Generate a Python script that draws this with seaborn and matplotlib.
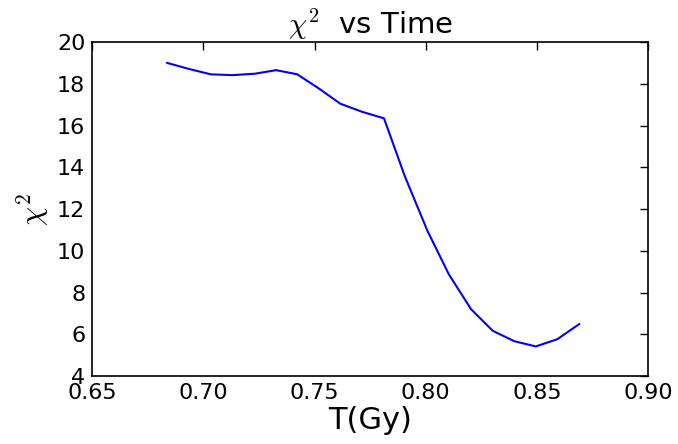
import matplotlib
matplotlib.use('Agg')
import matplotlib.pyplot as plt
import pandas as pd
import seaborn as sns

sns.set_style('white')
plt.rcParams['font.family'] = ['DejaVu Sans']
plt.rcParams['mathtext.fontset'] = 'cm'
plt.rcParams['text.color'] = 'black'
plt.rcParams['axes.labelcolor'] = 'black'
plt.rcParams['xtick.color'] = 'black'
plt.rcParams['ytick.color'] = 'black'

t_gy = [0.6836, 0.6934, 0.7033, 0.7130, 0.7232, 0.7327, 0.7422, 0.7518, 0.7616,
        0.7712, 0.7812, 0.7906, 0.8007, 0.8104, 0.8204, 0.8301, 0.8398, 0.8495,
        0.8592, 0.8691]
chi2 = [19.01, 18.72, 18.46, 18.42, 18.49, 18.66, 18.46, 17.79, 17.05,
        16.67, 16.35, 13.57, 10.97, 8.87, 7.20, 6.17, 5.67, 5.42,
        5.77, 6.50]

df = pd.DataFrame({'T': t_gy, 'chi2': chi2})

fig = plt.figure(figsize=(6.78, 4.44), dpi=100)
ax = fig.add_subplot(111)
fig.subplots_adjust(left=0.136, right=0.956, top=0.905, bottom=0.153)

sns.lineplot(data=df, x='T', y='chi2', color='#0000ff', linewidth=1.5, ax=ax)

ax.set_xlim(0.65, 0.90)
ax.set_ylim(4, 20)
ax.set_xticks([0.65, 0.70, 0.75, 0.80, 0.85, 0.90])
ax.set_xticklabels(['0.65', '0.70', '0.75', '0.80', '0.85', '0.90'])
ax.set_yticks(range(4, 21, 2))
ax.tick_params(direction='in', top=True, right=True, length=6, width=1,
               labelsize=16, pad=5)
for s in ax.spines.values():
    s.set_color('black')
    s.set_linewidth(1.2)

ax.set_title(r'$\chi^2$  vs Time', fontsize=21)
ax.set_xlabel('T(Gy)', fontsize=22, labelpad=2)
ax.set_ylabel(r'$\chi^2$', fontsize=22)

fig.savefig('out.png', dpi=100)
